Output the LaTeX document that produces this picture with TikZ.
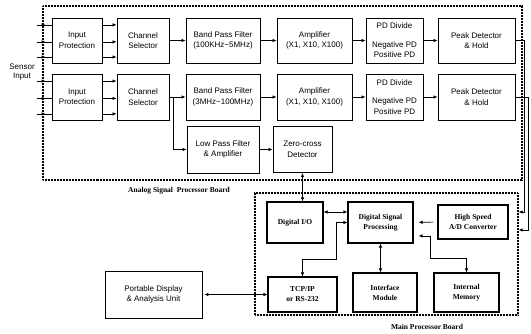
\documentclass[tikz,border=0pt]{standalone}
\usepackage{fontspec}
\setmainfont{Liberation Sans}
\newfontfamily\tnr{Liberation Serif}
\usetikzlibrary{arrows.meta,calc}

\tikzset{
  >={Latex[length=4pt,width=3.5pt]},
  ablock/.style={draw, line width=0.9pt, inner sep=1pt, align=center,
    font=\fontsize{8}{10.5}\selectfont},
  mblock/.style={draw, line width=1.1pt, inner sep=1pt, align=center,
    font=\tnr\bfseries\fontsize{7.5}{10}\selectfont},
  board/.style={draw, line width=1.2pt, dash pattern=on 0.6pt off 0.9pt, inner sep=0pt},
  boardlbl/.style={font=\tnr\bfseries\fontsize{7.5}{9}\selectfont},
  wire/.style={line width=0.7pt},
}

\begin{document}
\begin{tikzpicture}[x=1pt, y=-1pt]
		\useasboundingbox (0,0) rectangle (531,333);
		% boards
		\node [board, minimum width=479pt, minimum height=174pt] (aboard) at (282.5,93) {};
		\node [board, minimum width=263pt, minimum height=122pt] (mboard) at (386.5,254) {};
		\node [boardlbl] (alabel) at (179,191) {Analog Signal \ Processor Board};
		\node [boardlbl] (mlabel) at (427,327) {Main Processor Board};
		% analog board, row 1
		\node [ablock, minimum width=50pt, minimum height=45pt] (ip1) at (77,40.5) {Input\\Protection};
		\node [ablock, minimum width=52pt, minimum height=45pt] (cs1) at (143,40.5) {Channel\\Selector};
		\node [ablock, minimum width=74pt, minimum height=45pt] (bpf1) at (223,40.5) {Band Pass Filter\\(100KHz\textasciitilde5MHz)};
		\node [ablock, minimum width=75pt, minimum height=45pt] (amp1) at (314.5,40.5) {Amplifier\\(X1, X10, X100)};
		\node [ablock, minimum width=57pt, minimum height=45pt] (pd1) at (394.5,40.5) {PD Divide\\[8pt]Negative PD\\Positive PD};
		\node [ablock, minimum width=77pt, minimum height=45pt] (pk1) at (476.5,40.5) {Peak Detector\\\& Hold};
		% analog board, row 2
		\node [ablock, minimum width=50pt, minimum height=46pt] (ip2) at (77,97) {Input\\Protection};
		\node [ablock, minimum width=52pt, minimum height=46pt] (cs2) at (143,97) {Channel\\Selector};
		\node [ablock, minimum width=74pt, minimum height=46pt] (bpf2) at (223,97) {Band Pass Filter\\(3MHz\textasciitilde100MHz)};
		\node [ablock, minimum width=75pt, minimum height=46pt] (amp2) at (314.5,97) {Amplifier\\(X1, X10, X100)};
		\node [ablock, minimum width=57pt, minimum height=46pt] (pd2) at (394.5,97) {PD Divide\\[8pt]Negative PD\\Positive PD};
		\node [ablock, minimum width=77pt, minimum height=46pt] (pk2) at (476.5,97) {Peak Detector\\\& Hold};
		% analog board, row 3
		\node [ablock, minimum width=72pt, minimum height=47pt] (lpf) at (223,149.5) {Low Pass Filter\\\& Amplifier};
		\node [ablock, minimum width=59pt, minimum height=46pt, anchor=north] (zc) at (302.5,126) {Zero-cross\\Detector};
		\node [ablock, draw=none, font=\fontsize{8}{9.5}\selectfont] (sensor) at (22,72) {Sensor\\Input};
		% main board
		\node [mblock, minimum width=56pt, minimum height=41pt] (dio) at (295,222.5) {Digital I/O};
		\node [mblock, minimum width=65pt, minimum height=41pt] (dsp) at (380.5,222.5) {Digital Signal\\Processing};
		\node [mblock, minimum width=70pt, minimum height=34pt] (adc) at (473,222) {High Speed\\A/D Converter};
		\node [mblock, minimum width=69pt, minimum height=35pt] (tcp) at (302.5,294.5) {TCP/IP\\or RS-232};
		\node [mblock, minimum width=64pt, minimum height=39pt] (ifm) at (385,292.5) {Interface\\Module};
		\node [mblock, minimum width=65pt, minimum height=39pt] (mem) at (466.5,292.5) {Internal\\Memory};
		\node [ablock, minimum width=97pt, minimum height=47pt] (pdu) at (153.5,294.5) {Portable Display\\\& Analysis Unit};
		% sensor inputs and protection outputs
		\foreach \r in {1,2}{
			\foreach \f in {0.16,0.53,0.86}{
				\coordinate (in) at ($(ip\r.north west)!\f!(ip\r.south west)$);
				\draw [wire, ->] ($(in)+(-15,0)$) -- ($(in)+(-6,0)$);
				\draw [wire] ($(in)+(-15,0)$) -- (in);
				\draw [wire, ->] ($(ip\r.north east)!\f!(ip\r.south east)$) -- ($(cs\r.north west)!\f!(cs\r.south west)$);
			}
			\draw [wire, ->] (cs\r) -- (bpf\r);
			\draw [wire, ->] (bpf\r) -- (amp\r);
			\draw [wire, ->] (amp\r) -- (pd\r);
			\draw [wire, ->] (pd\r) -- (pk\r);
		}
		\coordinate (br) at (173,97);
		\draw [wire, ->] (br) |- (lpf.west);
		\draw [wire, ->] (lpf) -- (zc);
		% peak outputs to A/D
		\draw [wire, ->] (pk1.east) -| (524,212) -- (524,212 -| mboard.east);
		\draw [wire, ->] (pk2.east) -| (528,230) -- (528,230 -| mboard.east);
		% main board links
		\draw [wire, <->] (zc.south) -- (zc.south |- dio.north);
		\draw [wire, <->] ($(dio.north east)!0.25!(dio.south east)$) -- ($(dsp.north west)!0.25!(dsp.south west)$);
		\draw [wire, <->] (dsp.west) -| ++(-11,37) -| (tcp.north);
		\draw [wire, ->, shorten >=5pt, shorten <=4pt] (adc.west) -- (dsp.east);
		\draw [wire, <->] (dsp.south) -- (dsp.south |- ifm.north);
		\draw [wire, <->, shorten <=5pt] ($(dsp.north east)!0.82!(dsp.south east)$) -| ++(17,22) -| (mem.north);
		\draw [wire, <->, shorten <=2pt] (pdu.east) -- (tcp.west);
	\end{tikzpicture}
\end{document}
